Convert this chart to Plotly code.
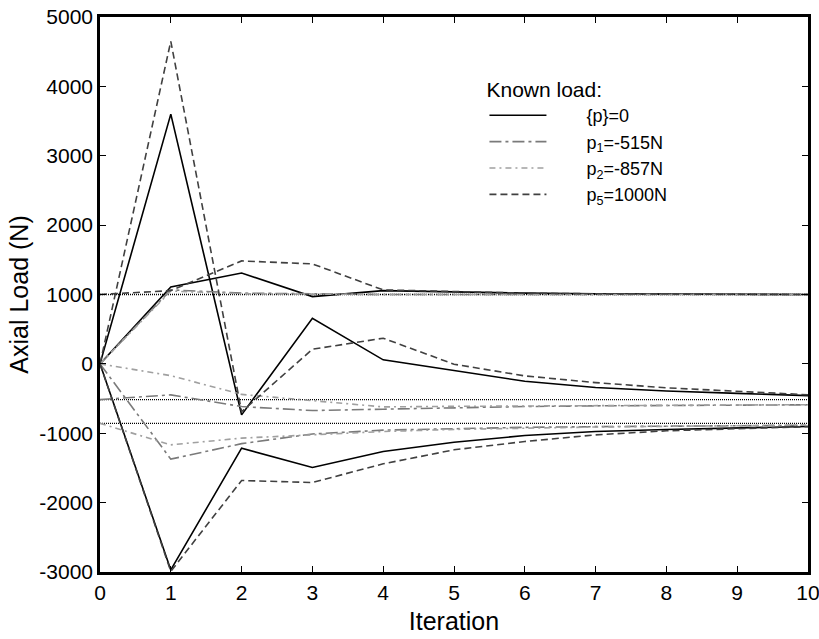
import plotly.graph_objects as go

# Iteration index
iterations = list(range(11))

# Known load {p}=0  (three members)
zero_a = [0, 3600, -735, 658, 58, -100, -250, -340, -390, -425, -458]
zero_b = [0, 1110, 1310, 970, 1056, 1035, 1020, 1010, 1005, 1002, 1000]
zero_c = [0, -2970, -1215, -1494, -1263, -1130, -1033, -975, -945, -920, -903]

# Known load p1 = -515 N
p1_a = [-515, -447, -615, -673, -653, -630, -615, -605, -598, -592, -590]
p1_b = [0, 1066, 1020, 1005, 1000, 1000, 1000, 1000, 1000, 1000, 1000]
p1_c = [0, -1373, -1150, -1010, -955, -930, -915, -905, -895, -890, -885]

# Known load p2 = -857 N
p2_a = [0, -170, -440, -528, -620, -612, -605, -598, -593, -590, -588]
p2_b = [0, 1050, 1010, 1000, 1000, 1000, 1000, 1000, 1000, 1000, 1000]
p2_c = [-857, -1167, -1070, -1025, -975, -945, -925, -910, -900, -890, -882]

# Known load p5 = 1000 N
p5_a = [0, 4650, -690, 211, 370, -5, -173, -270, -345, -400, -445]
p5_b = [1000, 1056, 1484, 1441, 1066, 1040, 1020, 1010, 1005, 1002, 1000]
p5_c = [0, -2990, -1681, -1710, -1441, -1239, -1119, -1023, -965, -930, -905]

# Exact member forces (reference levels)
exact_levels = [1000, -515, -857]

x_ticks = list(range(0, 11))
y_ticks = list(range(-3000, 5001, 1000))
y_tick_text = [str(v) for v in y_ticks]  # plain hyphen for negatives

FONT = "Liberation Sans, Arial"
PAD = "&nbsp;" * 7
groups = [
    (PAD + "{p}=0", [zero_a, zero_b, zero_c], "#000000", "solid", 1.6),
    (PAD + "p<sub>1</sub>=-515N", [p1_a, p1_b, p1_c], "#7a7a7a", "12px,4px,3px,4px", 1.6),
    (PAD + "p<sub>2</sub>=-857N", [p2_a, p2_b, p2_c], "#a0a0a0", "6px,4px,2px,4px", 1.6),
    (PAD + "p<sub>5</sub>=1000N", [p5_a, p5_b, p5_c], "#404040", "7px,4px", 1.6),
]

fig = go.Figure()

for lvl in exact_levels:
    fig.add_trace(go.Scatter(
        x=[iterations[0], iterations[-1]], y=[lvl, lvl], mode="lines",
        line=dict(color="#000000", width=1.3, dash="1px,1px"),
        showlegend=False, hoverinfo="skip",
    ))

for name, series, color, dash, width in groups:
    for i, ys in enumerate(series):
        fig.add_trace(go.Scatter(
            x=iterations, y=ys, mode="lines", name=name,
            legendgroup=name, showlegend=(i == 0),
            line=dict(color=color, width=width, dash=dash),
        ))

axis_common = dict(
    showgrid=False, zeroline=False, showline=True, linecolor="#000000",
    linewidth=2.5, mirror="allticks", ticks="inside", ticklen=6,
    tickcolor="#000000", tickwidth=1.2, automargin=False,
    ticklabeloverflow="allow",
    tickfont=dict(family=FONT, size=21, color="#000000"),
)

fig.update_layout(
    width=819, height=639,
    margin=dict(l=100, r=11, t=17, b=67),
    paper_bgcolor="white", plot_bgcolor="white",
    font=dict(family=FONT, size=21, color="#000000"),
    xaxis=dict(range=[0, 10], tickvals=x_ticks,
               title=dict(text="Iteration", standoff=10), **axis_common),
    yaxis=dict(range=[-3000, 5000], tickvals=y_ticks, ticktext=y_tick_text,
               title=dict(text="Axial Load (N)", standoff=4), **axis_common),
    legend=dict(
        x=0.543, y=0.905, xanchor="left", yanchor="top",
        bgcolor="rgba(0,0,0,0)", borderwidth=0,
        itemwidth=57, tracegroupgap=0,
        title=dict(text="Known load:", font=dict(size=21)),
        font=dict(size=18),
    ),
)

fig.write_html("out.html")
